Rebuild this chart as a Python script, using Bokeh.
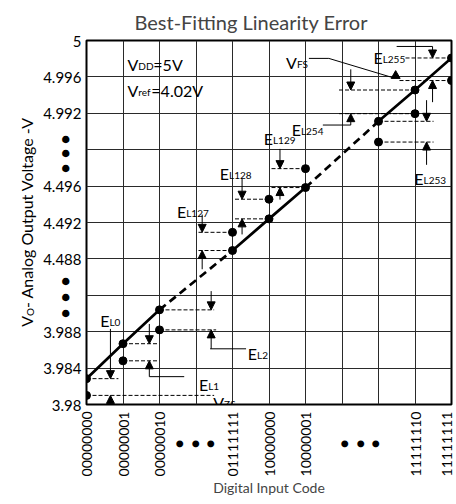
import math
from bokeh.plotting import figure
from bokeh.layouts import row
from bokeh.models import FixedTicker, Arrow, NormalHead, ColumnDataSource
from bokeh.core.properties import value
from bokeh.embed import file_html
from bokeh.resources import INLINE

# ---------------- data (values on the broken axes, in grid units) ----------------
codes = ["00000000", "00000001", "00000010", "01111111", "10000000",
         "10000001", "11111101", "11111110", "11111111"]
code_pos = [0, 1, 2, 4, 5, 6, 8, 9, 10]
fit_level = [0.71, 1.67, 2.60, 4.23, 5.10, 5.96, 7.78, 8.64, 9.52]
actual_level = [0.25, 1.20, 2.05, 4.73, 5.64, 6.48, 7.21, 7.99, 8.90]
error_names = ["L0", "L1", "L2", "L127", "L128", "L129", "L253", "L254", "L255"]

grid_ticks = list(range(11))
x_tick_pos = [0, 1, 2, 4, 5, 6, 9, 9.86]
x_tick_labels = ["00000000", "00000001", "00000010", "01111111", "10000000",
                 "10000001", "11111110", "11111111"]
y_tick_pos = [0, 1, 2, 4, 5, 6, 8, 9, 10]
y_tick_labels = ["3.98", "3.984", "3.988", "4.488", "4.492", "4.496",
                 "4.992", "4.996", "5"]
# axis-break markers shown in place of the omitted ticks
x_break_pos = [2.51, 2.95, 3.36, 7.05, 7.49, 7.90]
y_break_pos = [7.32, 6.94, 6.53, 3.42, 2.98, 2.54]
BREAK_MARK = "\u25cf"

# ---------------- layout helpers (annotation placement, page pixels) ----------------
FONT = "Lato"
PX = 36.6
X0, Y0 = 85.0, 404.0
def gx(px): return (px - X0) / PX
def gy(py): return (Y0 - py) / PX

arrow_x_px = [109, 148, 210, 201, 241, 279, 426, 350, 432]
down_tail_px = [328, 323, 290, 213, 177, 147, 98, 67, 44]
up_tail_px = [415, 376, 348, 268, 233, 198, 163, 123, 100]
fit_end_px = [117, 157, 213, 195, 233, 270, 433, 337, 403]
act_end_px = [213, 158, 215, 195, 233, 270, 433, 337, 398]
label_anchor_px = [(108, 320), (207, 384), (256, 353), (185, 210), (228, 172),
                   (272, 137), (423, 177), (300, 127), (382, 55)]

H = 504
LW = 40
W = 456 - LW
TOP, BOTTOM = 38, 100

# ---------------- left strip: y-axis title with subscript ----------------
left = figure(width=LW, height=H, x_range=(0, LW), y_range=(0, 10), title=None,
              output_backend="svg", toolbar_location=None,
              x_axis_location=None, y_axis_location=None,
              min_border_left=0, min_border_right=0,
              min_border_top=TOP, min_border_bottom=BOTTOM,
              outline_line_color=None)
left.xgrid.visible = False
left.ygrid.visible = False
left.text([25.7], [gy(315)], text=["V"], angle=math.pi / 2, text_font=value(FONT),
          text_font_size="16px", text_align="right", text_baseline="middle")
left.text([29.0], [gy(315)], text=["O"], angle=math.pi / 2, text_font=value(FONT),
          text_font_size="10px", text_align="left", text_baseline="middle")
left.text([25.7], [gy(307)], text=["- Analog Output Voltage -V"], angle=math.pi / 2,
          text_font=value(FONT), text_font_size="16px", text_align="left",
          text_baseline="middle")

# ---------------- main chart ----------------
p = figure(width=W, height=H, x_range=(0, 10), y_range=(0, 10),
           output_backend="svg", toolbar_location=None,
           min_border_left=85 - LW, min_border_right=5,
           min_border_top=TOP, min_border_bottom=BOTTOM)

p.title.text = "Best-Fitting Linearity Error"
p.title.text_font = FONT
p.title.text_font_size = "20px"
p.title.text_font_style = "normal"
p.title.align = "left"
p.title.offset = 48
p.title.vertical_align = "bottom"
p.title.standoff = 14

p.outline_line_color = "black"
p.outline_line_width = 2

for ax in (p.xaxis, p.yaxis):
    ax.axis_line_color = None
    ax.major_tick_line_color = None
    ax.minor_tick_line_color = None
    ax.major_tick_out = 0
    ax.major_tick_in = 0
    ax.minor_tick_out = 0
    ax.minor_tick_in = 0
    ax.major_label_text_font = FONT
    ax.major_label_text_color = "black"
p.yaxis.major_label_text_font_size = "15px"
p.xaxis.major_label_text_font_size = "14px"

xo = {t: l for t, l in zip(x_tick_pos, x_tick_labels)}
xo.update({t: BREAK_MARK + "\u2003\u2003\u2002" for t in x_break_pos})
p.xaxis.ticker = FixedTicker(ticks=x_tick_pos + x_break_pos)
p.xaxis.major_label_overrides = xo
p.xaxis.major_label_orientation = math.pi / 2
p.xaxis.major_label_standoff = 7
p.xaxis.axis_label = "Digital Input Code"
p.xaxis.axis_label_text_font = FONT
p.xaxis.axis_label_text_font_size = "14px"
p.xaxis.axis_label_text_font_style = "normal"
p.xaxis.axis_label_standoff = 0

yo = {t: l for t, l in zip(y_tick_pos, y_tick_labels)}
yo.update({t: BREAK_MARK + "\u2003" for t in y_break_pos})
p.yaxis.ticker = FixedTicker(ticks=y_tick_pos + y_break_pos)
p.yaxis.major_label_overrides = yo
p.yaxis.major_label_standoff = 5

p.xgrid.ticker = FixedTicker(ticks=grid_ticks)
p.ygrid.ticker = FixedTicker(ticks=grid_ticks)
p.grid.grid_line_color = "#2a2a2a"
p.grid.grid_line_width = 1

# ---- dashed reference levels ----
sx0, sy0, sx1, sy1 = [], [], [], []
for i, xp in enumerate(code_pos):
    sx0 += [xp, xp]
    sy0 += [fit_level[i], actual_level[i]]
    sx1 += [gx(fit_end_px[i]), gx(act_end_px[i])]
    sy1 += [fit_level[i], actual_level[i]]
p.segment(sx0, sy0, sx1, sy1, line_color="black", line_width=1, line_dash="4 2")

# ---- best-fit line (solid within each group, dashed across the breaks) ----
for a, b in [(0, 3), (3, 6), (6, 9)]:
    p.line(code_pos[a:b], fit_level[a:b], line_color="black", line_width=2.7)
for a in (2, 5):
    p.line(code_pos[a:a + 2], fit_level[a:a + 2], line_color="black",
           line_width=2.7, line_dash="8 5")

# ---- points ----
p.scatter(code_pos, fit_level, size=8, color="black")
p.scatter(code_pos, actual_level, size=8, color="black")

# ---- error arrows ----
ax_, ay0, ay1 = [], [], []
for i in range(len(code_pos)):
    hi = max(fit_level[i], actual_level[i])
    lo = min(fit_level[i], actual_level[i])
    xa = gx(arrow_x_px[i])
    ax_ += [xa, xa]
    ay0 += [gy(down_tail_px[i]), gy(up_tail_px[i])]
    ay1 += [hi, lo]
arrow_src = ColumnDataSource(dict(x0=ax_, y0=ay0, x1=ax_, y1=ay1))
p.add_layout(Arrow(source=arrow_src, x_start="x0", y_start="y0", x_end="x1", y_end="y1",
                   line_color="black", line_width=1,
                   end=NormalHead(size=8, fill_color="black", line_color="black", line_width=1)))

# ---- leader lines ----
leaders = [
    [(148, 376), (183, 376)],
    [(209, 348), (245, 348)],
    [(322, 123), (350, 123)],
    [(396, 44), (432, 44)],
    [(308, 56), (328, 56), (391, 75)],
]
p.multi_line([[gx(a) for a, b in L] for L in leaders], [[gy(b) for a, b in L] for L in leaders],
             line_color="black", line_width=1)
p.scatter([gx(395)], [gy(73.5)], marker="triangle", size=9, color="black")

# ---- labels with subscripts ----
def sub_label(jx, base, main, sub, tail=None, tail_x=None):
    p.text([gx(jx)], [gy(base)], text=[main], text_font=value(FONT), text_font_size="16px",
           text_align="right", text_baseline="alphabetic", text_color="black")
    p.text([gx(jx)], [gy(base + 1.5)], text=[sub], text_font=value(FONT), text_font_size="10px",
           text_align="left", text_baseline="alphabetic", text_color="black")
    if tail:
        p.text([gx(tail_x)], [gy(base)], text=[tail], text_font=value(FONT), text_font_size="16px",
               text_align="left", text_baseline="alphabetic", text_color="black")

for (jx, base), name in zip(label_anchor_px, error_names):
    sub_label(jx, base, "E", name)
sub_label(223, 402, "V", "ZS")
sub_label(296, 60, "V", "FS")
sub_label(137, 62, "V", "DD", "=5V", 152)
sub_label(137, 88, "V", "ref", "=4.02V", 150)

open("out.html", "w").write(file_html(row(left, p), INLINE))
